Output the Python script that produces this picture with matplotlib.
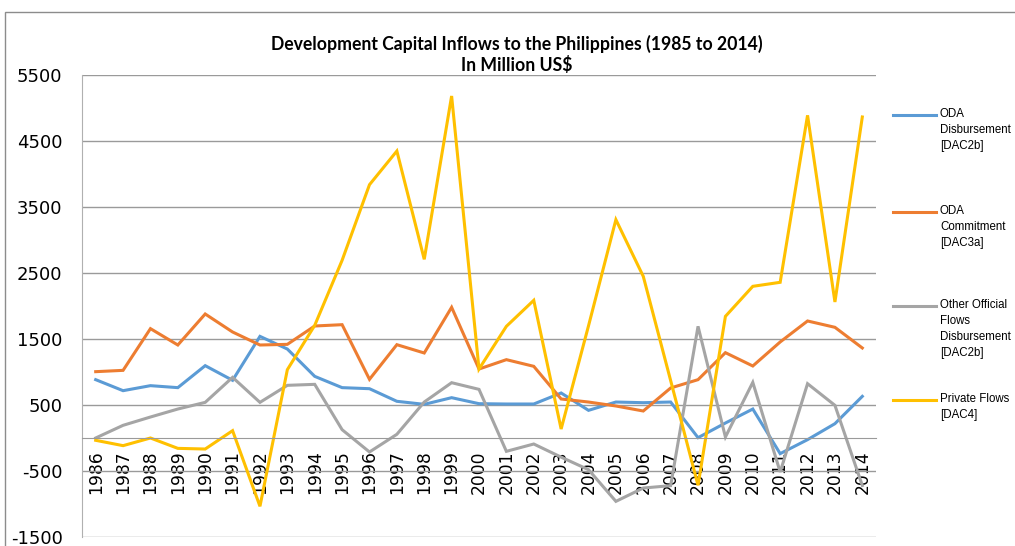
import matplotlib
matplotlib.use("Agg")
import matplotlib.pyplot as plt
from matplotlib.lines import Line2D
from matplotlib.patches import Rectangle

years = [str(y) for y in range(1986, 2015)]
oda_disb = [884, 717, 793, 763, 1096, 874, 1540, 1348,
            934, 763, 747, 556, 510, 611, 520,
            515, 515, 682, 419, 545, 535, 545,
            5, 227, 439, -237, -25, 217, 631]
oda_commit = [1005, 1025, 1657, 1409, 1879, 1606, 1409, 1419,
              1697, 1717, 889, 1414, 1288, 1980, 1045,
              1187, 1086, 591, 545, 485, 409, 758,
              884, 1293, 1091, 1455, 1773, 1677, 1364]
other_official = [0, 192, 318, 439, 540, 919, 540, 798,
                  813, 126, -212, 56, 545, 838, 737,
                  -202, -91, -290, -480, -960, -758, -722,
                  1692, 15, 843, -515, 823, 495, -720]
private = [-35, -116, 0, -157, -167, 111, -1035, 1035,
           1707, 2692, 3838, 4348, 2707, 5182, 1045,
           1692, 2086, 136, 1700, 3308, 2449, 870,
           -717, 1843, 2298, 2359, 4889, 2061, 4864]
series_labels = ["ODA\nDisbursement\n[DAC2b]",
                 "ODA\nCommitment\n[DAC3a]",
                 "Other Official\nFlows\nDisbursement\n[DAC2b]",
                 "Private Flows\n[DAC4]"]
yticks = [-1500, -500, 500, 1500, 2500, 3500, 4500, 5500]

colors = ["#5B9BD5", "#ED7D31", "#A5A5A5", "#FFC000"]
W, H = 1015, 546
fig = plt.figure(figsize=(W / 100, H / 100), dpi=100)

# chart border
fig.add_artist(Rectangle((5 / W, -0.1), 1.2, 1 - 12 / H + 0.1, transform=fig.transFigure,
                         fill=False, edgecolor="#8c8c8c", linewidth=1.0))

ax = fig.add_axes([82 / W, 1 - 537 / H, (876 - 82) / W, (537 - 75) / H])
for s in ["top", "right"]:
    ax.spines[s].set_visible(False)
ax.spines["bottom"].set_position(("data", 0))
ax.spines["bottom"].set_color("#9a9a9a")
ax.spines["left"].set_color("#b0b0b0")

x = list(range(len(years)))
data = [oda_disb, oda_commit, other_official, private]
for vals, c in zip(data, colors):
    ax.plot(x, vals, color=c, linewidth=2.2, solid_joinstyle="miter")

ax.set_xlim(-0.5, len(years) - 0.5)
ax.set_ylim(-1500, 5500)
ax.set_yticks(yticks)
ax.set_yticklabels([str(v) for v in yticks], fontsize=13, family="DejaVu Sans")
ax.yaxis.grid(True, color="#9a9a9a", linewidth=1.0)
ax.set_axisbelow(True)
ax.tick_params(axis="y", length=0, pad=14)
ax.set_xticks(x)
ax.set_xticklabels(years, rotation=90, fontsize=12.3, family="DejaVu Sans")
ax.tick_params(axis="x", length=0, pad=9)

title_font = ["Lato", "DejaVu Sans"]
fig.text(517 / W, 1 - 44 / H, "Development Capital Inflows to the Philippines (1985 to 2014)",
         ha="center", va="center", fontsize=12.7, fontweight="bold", family=title_font)
fig.text(517 / W, 1 - 65 / H, "In Million US$",
         ha="center", va="center", fontsize=12.7, fontweight="bold", family=title_font)

# legend
leg_y = [115, 212, 306, 400]
for lab, c, yy in zip(series_labels, colors, leg_y):
    fig.add_artist(Line2D([893 / W, 936 / W], [1 - yy / H, 1 - yy / H],
                          transform=fig.transFigure, color=c, linewidth=2.2))
    fig.text(940 / W, 1 - (yy - 7) / H, lab, ha="left", va="top", fontsize=8.3,
             linespacing=1.45, family=["Liberation Sans", "DejaVu Sans"])

fig.savefig("out.png", dpi=100)
